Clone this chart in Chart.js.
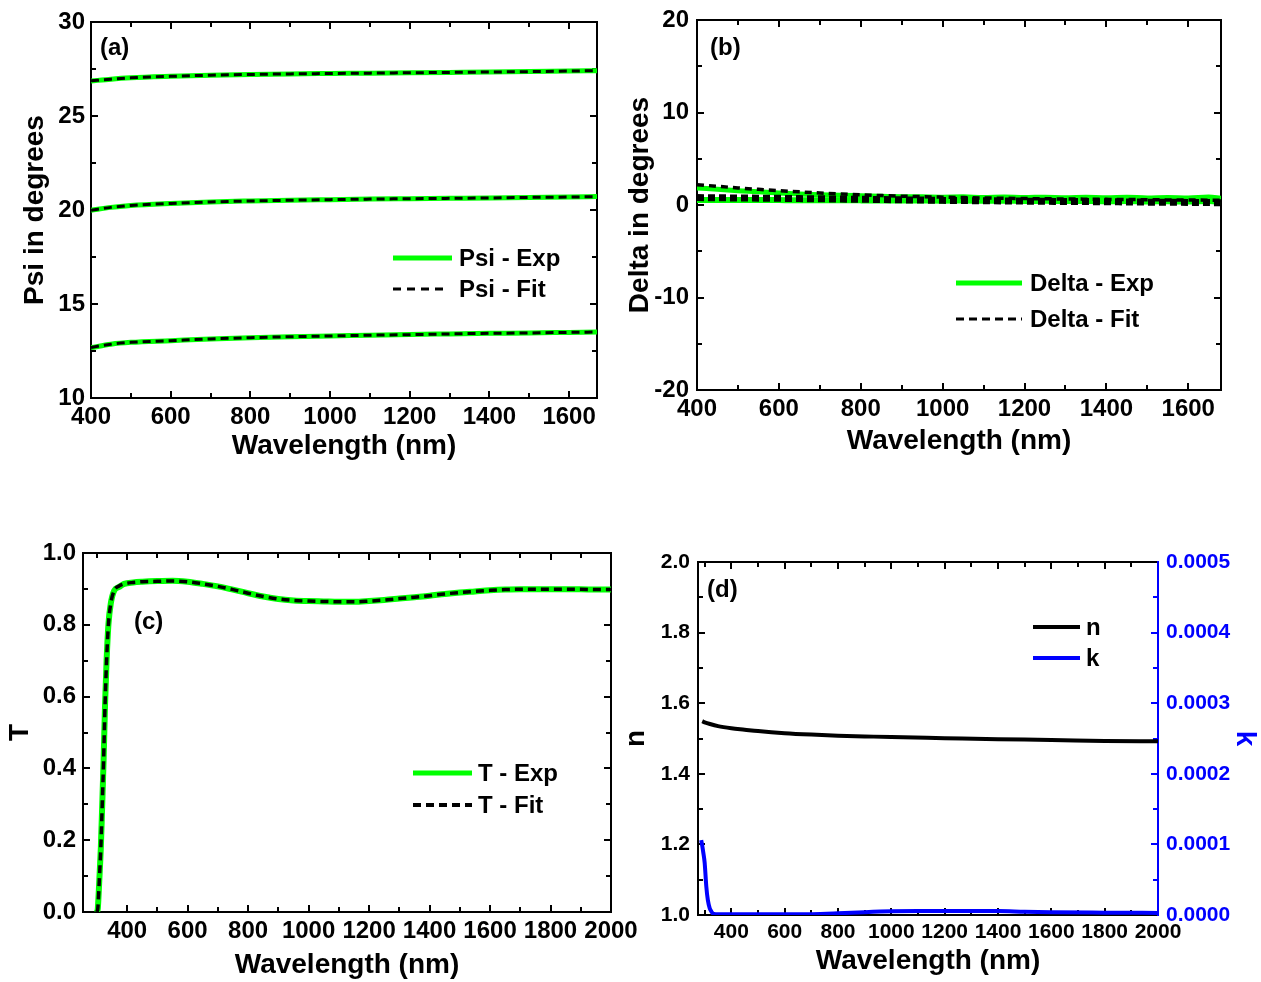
<!DOCTYPE html>
<html><head><meta charset="utf-8">
<script src="https://cdn.jsdelivr.net/npm/chart.js@4.4.1/dist/chart.umd.min.js"></script>
<style>
html,body{margin:0;padding:0;background:#fff;width:1261px;height:982px;overflow:hidden}
canvas{position:absolute}
</style></head><body>
<canvas id="ca" width="620" height="470" style="left:0;top:0;width:620px;height:470px"></canvas>
<canvas id="cb" width="641" height="470" style="left:620px;top:0;width:641px;height:470px"></canvas>
<canvas id="cc" width="650" height="452" style="left:0;top:530px;width:650px;height:452px"></canvas>
<canvas id="cd" width="641" height="452" style="left:620px;top:530px;width:641px;height:452px"></canvas>
<script>
const FONT = '"Liberation Sans", Arial, Helvetica, sans-serif';
const GREEN = 'rgb(0,255,0)';
const BLUE = 'rgb(0,0,255)';
const BLACK = '#000';

// ---------- (a) Psi ----------
const psiWl      = [400, 450, 500, 600, 700, 800, 900, 1000, 1100, 1200, 1300, 1400, 1500, 1600, 1670];
const psiExpTop  = [26.86, 26.96, 27.03, 27.11, 27.17, 27.21, 27.24, 27.26, 27.28, 27.30, 27.32, 27.34, 27.37, 27.39, 27.41];
const psiFitTop  = [26.87, 26.96, 27.03, 27.11, 27.17, 27.21, 27.24, 27.26, 27.28, 27.30, 27.32, 27.34, 27.36, 27.39, 27.41];
const psiExpMid  = [19.98, 20.14, 20.24, 20.35, 20.43, 20.48, 20.52, 20.55, 20.58, 20.60, 20.62, 20.64, 20.67, 20.69, 20.72];
const psiFitMid  = [19.99, 20.14, 20.24, 20.35, 20.43, 20.48, 20.52, 20.55, 20.58, 20.60, 20.62, 20.64, 20.67, 20.69, 20.71];
const psiExpLow  = [12.68, 12.86, 12.96, 13.05, 13.14, 13.21, 13.26, 13.30, 13.34, 13.38, 13.41, 13.44, 13.46, 13.49, 13.51];
const psiFitLow  = [12.69, 12.86, 12.96, 13.05, 13.14, 13.21, 13.26, 13.30, 13.34, 13.37, 13.41, 13.44, 13.46, 13.49, 13.51];
const psiXTicks  = [400, 600, 800, 1000, 1200, 1400, 1600];
const psiYTicks  = [10, 15, 20, 25, 30];

// ---------- (b) Delta ----------
const deltaWl   = [400, 450, 500, 550, 600, 650, 700, 750, 800, 850, 900, 950, 1000, 1050, 1100, 1150, 1200, 1250, 1300, 1350, 1400, 1450, 1500, 1550, 1600, 1650, 1680];
const deltaExp1 = [1.85, 1.7, 1.55, 1.42, 1.3, 1.2, 1.12, 1.05, 1.0, 0.95, 0.9, 0.88, 0.85, 0.88, 0.82, 0.86, 0.8, 0.85, 0.79, 0.84, 0.78, 0.83, 0.77, 0.82, 0.76, 0.86, 0.74];
const deltaExp2 = [0.55, 0.55, 0.54, 0.54, 0.53, 0.52, 0.52, 0.51, 0.5, 0.5, 0.49, 0.48, 0.47, 0.49, 0.45, 0.47, 0.43, 0.46, 0.42, 0.44, 0.4, 0.43, 0.39, 0.41, 0.37, 0.42, 0.36];
const deltaFit1 = [2.2, 2.02, 1.85, 1.69, 1.55, 1.42, 1.3, 1.19, 1.1, 1.02, 0.95, 0.9, 0.85, 0.8, 0.76, 0.73, 0.7, 0.67, 0.65, 0.63, 0.61, 0.59, 0.57, 0.55, 0.54, 0.52, 0.51];
const deltaFit2 = [0.8, 0.78, 0.76, 0.74, 0.72, 0.69, 0.67, 0.64, 0.62, 0.59, 0.56, 0.53, 0.5, 0.48, 0.46, 0.44, 0.42, 0.4, 0.38, 0.37, 0.35, 0.33, 0.31, 0.3, 0.28, 0.26, 0.25];
const deltaXTicks = [400, 600, 800, 1000, 1200, 1400, 1600];
const deltaYTicks = [-20, -10, 0, 10, 20];

// ---------- (c) T ----------
const tWl  = [300, 303, 308, 313, 318, 322, 327, 332, 338, 346, 357, 373, 390, 420, 450, 500, 550, 600, 650, 700, 750, 800, 850, 900, 950, 1000, 1050, 1100, 1150, 1200, 1250, 1300, 1350, 1400, 1450, 1500, 1550, 1600, 1650, 1700, 1750, 1800, 1850, 1900, 1950, 2000];
const tExp = [0.0, 0.01, 0.09, 0.18, 0.31, 0.42, 0.58, 0.70, 0.80, 0.86, 0.895, 0.905, 0.914, 0.918, 0.920, 0.922, 0.923, 0.920, 0.914, 0.907, 0.898, 0.888, 0.879, 0.872, 0.868, 0.866, 0.865, 0.864, 0.864, 0.866, 0.869, 0.873, 0.877, 0.881, 0.886, 0.890, 0.893, 0.896, 0.898, 0.899, 0.899, 0.899, 0.899, 0.899, 0.898, 0.898];
const tFit = [0.0, 0.01, 0.09, 0.18, 0.31, 0.42, 0.58, 0.70, 0.80, 0.86, 0.895, 0.908, 0.914, 0.918, 0.920, 0.921, 0.922, 0.920, 0.914, 0.907, 0.898, 0.888, 0.879, 0.872, 0.868, 0.866, 0.865, 0.864, 0.864, 0.866, 0.869, 0.873, 0.877, 0.881, 0.886, 0.890, 0.893, 0.896, 0.898, 0.899, 0.899, 0.899, 0.899, 0.899, 0.898, 0.898];
const tXTicks = [400, 600, 800, 1000, 1200, 1400, 1600, 1800, 2000];
const tYTicks = [0.0, 0.2, 0.4, 0.6, 0.8, 1.0];
const tYLabels = ['0.0', '0.2', '0.4', '0.6', '0.8', '1.0'];

// ---------- (d) n, k ----------
const nWl = [291, 300, 320, 350, 400, 450, 500, 600, 700, 800, 900, 1000, 1200, 1400, 1600, 1800, 2000];
const nVal = [1.549, 1.546, 1.541, 1.535, 1.529, 1.525, 1.521, 1.515, 1.511, 1.508, 1.506, 1.504, 1.501, 1.498, 1.496, 1.493, 1.492];
const kWl = [287, 291, 295, 300, 306, 312, 319, 325, 331, 340, 350, 400, 500, 600, 700, 800, 900, 1000, 1100, 1200, 1300, 1400, 1500, 1600, 1800, 2000];
const kVal = [0.000106, 0.000098, 0.000088, 0.000074, 0.000041, 0.000021, 0.0000095, 0.000005, 0.000002, 0.0000012, 0.000001, 0.000001, 0.000001, 0.000001, 0.0000012, 0.0000024, 0.000004, 0.0000052, 0.0000056, 0.0000056, 0.0000056, 0.0000055, 0.0000045, 0.0000038, 0.0000033, 0.000003];
const ndXTicks = [400, 600, 800, 1000, 1200, 1400, 1600, 1800, 2000];
const nYTicks = [1.0, 1.2, 1.4, 1.6, 1.8, 2.0];
const nYLabels = ['1.0', '1.2', '1.4', '1.6', '1.8', '2.0'];
const kYTicks = [0, 0.0001, 0.0002, 0.0003, 0.0004, 0.0005];
const kYLabels = ['0.0000', '0.0001', '0.0002', '0.0003', '0.0004', '0.0005'];

// ---------- helpers ----------
function pts(xs, ys) { return xs.map((x, i) => ({ x: x, y: ys[i] })); }
function ds(label, xs, ys, color, width, dash, axisId, order) {
  return { label: label, data: pts(xs, ys), borderColor: color, backgroundColor: color, borderWidth: width,
    borderDash: dash || [], pointRadius: 0, fill: false, cubicInterpolationMode: 'monotone',
    yAxisID: axisId || 'y', borderCapStyle: 'butt', borderJoinStyle: 'round',
    order: order === undefined ? ((dash && dash.length) ? 0 : 1) : order };
}
function f(size) { return { family: FONT, size: size, weight: 'bold', lineHeight: 1 }; }

function xAxis(o) {
  return {
    type: 'linear', position: 'bottom', min: o.min, max: o.max,
    afterBuildTicks: s => { s.ticks = o.ticks.map(v => ({ value: v })); },
    afterFit: s => { s.height = o.h; },
    grid: { display: false, drawTicks: false }, border: { display: false },
    ticks: { font: f(o.fs), color: BLACK, padding: o.pad, autoSkip: false, maxRotation: 0, minRotation: 0,
      callback: (v, i) => o.labels ? o.labels[i] : String(v) },
    title: { display: true, text: 'Wavelength (nm)', font: f(28), color: BLACK, padding: { top: 0, bottom: o.tpad } }
  };
}
function yAxis(o) {
  return {
    type: 'linear', position: o.pos || 'left', min: o.min, max: o.max,
    afterBuildTicks: s => { s.ticks = o.ticks.map(v => ({ value: v })); },
    afterFit: s => { s.width = o.w; },
    grid: { display: false, drawTicks: false }, border: { display: false },
    ticks: { font: f(o.fs), color: o.color || BLACK, padding: o.pad, autoSkip: false,
      callback: (v, i) => o.labels ? o.labels[i] : String(v) },
    title: { display: true, text: o.title, font: f(28), color: o.color || BLACK, padding: { top: o.tpad, bottom: 0 } }
  };
}

const framePlugin = {
  id: 'frame',
  beforeDatasetsDraw(chart, args, opts) {
    const ctx = chart.ctx, a = chart.chartArea;
    ctx.save();
    ctx.setLineDash([]);
    (opts.tickSpec || []).forEach(t => {
      const sc = chart.scales[t.id];
      ctx.strokeStyle = t.color || BLACK;
      ctx.lineWidth = 2;
      const drawAt = (v, len) => {
        const p = Math.round(sc.getPixelForValue(v));
        t.sides.forEach(side => {
          ctx.beginPath();
          if (side === 'bottom') { ctx.moveTo(p, a.bottom); ctx.lineTo(p, a.bottom - len); }
          if (side === 'top') { ctx.moveTo(p, a.top); ctx.lineTo(p, a.top + len); }
          if (side === 'left') { ctx.moveTo(a.left, p); ctx.lineTo(a.left + len, p); }
          if (side === 'right') { ctx.moveTo(a.right, p); ctx.lineTo(a.right - len, p); }
          ctx.stroke();
        });
      };
      t.major.forEach(v => drawAt(v, 7));
      const step = t.minor;
      let start = t.major[0];
      while (start - step >= sc.min - 1e-12) start -= step;
      for (let i = 0; ; i++) {
        const v = start + i * step;
        if (v > sc.max + step * 1e-6) break;
        if (t.major.some(m => Math.abs(m - v) < step * 1e-3)) continue;
        drawAt(v, 5);
      }
    });
    ctx.lineWidth = 2;
    const sideColor = opts.sideColor || {};
    const seg = (x1, y1, x2, y2, c) => { ctx.strokeStyle = c || BLACK; ctx.beginPath(); ctx.moveTo(x1, y1); ctx.lineTo(x2, y2); ctx.stroke(); };
    seg(a.left, a.top, a.right, a.top, sideColor.top);
    seg(a.left, a.bottom, a.right, a.bottom, sideColor.bottom);
    seg(a.left, a.top - 1, a.left, a.bottom + 1, sideColor.left);
    seg(a.right, a.top - 1, a.right, a.bottom + 1, sideColor.right);
    ctx.restore();
  },
  afterDatasetsDraw(chart, args, opts) {
    const ctx = chart.ctx;
    ctx.save();
    (opts.legend || []).forEach(l => {
      ctx.strokeStyle = l.color; ctx.lineWidth = l.width; ctx.setLineDash(l.dash || []);
      ctx.lineCap = 'butt';
      ctx.beginPath(); ctx.moveTo(l.x1, l.y); ctx.lineTo(l.x2, l.y); ctx.stroke();
      ctx.setLineDash([]);
      ctx.fillStyle = BLACK; ctx.font = 'bold ' + (l.fs || 24) + 'px ' + FONT;
      ctx.textAlign = 'left'; ctx.textBaseline = 'middle';
      ctx.fillText(l.text, l.tx, l.y + 1);
    });
    if (opts.panel) {
      ctx.fillStyle = BLACK; ctx.font = 'bold ' + (opts.panel.fs || 24) + 'px ' + FONT;
      ctx.textAlign = 'left'; ctx.textBaseline = 'middle';
      ctx.fillText(opts.panel.text, opts.panel.x, opts.panel.y);
    }
    ctx.restore();
  }
};

const common = { responsive: false, animation: false, devicePixelRatio: 1, events: [] };
function make(id, datasets, scales, padding, frame) {
  return new Chart(document.getElementById(id), {
    type: 'line',
    data: { datasets: datasets },
    options: Object.assign({}, common, {
      layout: { padding: padding },
      scales: scales,
      plugins: { legend: { display: false }, tooltip: { enabled: false }, frame: frame }
    }),
    plugins: [framePlugin]
  });
}

// (a)
make('ca', [
  ds('Psi - Exp', psiWl, psiExpTop, GREEN, 5),
  ds('Psi - Exp', psiWl, psiExpMid, GREEN, 5),
  ds('Psi - Exp', psiWl, psiExpLow, GREEN, 5),
  ds('Psi - Fit', psiWl, psiFitTop, BLACK, 3, [8, 5]),
  ds('Psi - Fit', psiWl, psiFitMid, BLACK, 3, [8, 5]),
  ds('Psi - Fit', psiWl, psiFitLow, BLACK, 3, [8, 5])
], {
  x: xAxis({ min: 400, max: 1670, ticks: psiXTicks, h: 72, fs: 24, pad: 7, tpad: 10 }),
  y: yAxis({ min: 10, max: 30, ticks: psiYTicks, w: 91, fs: 24, pad: 6, tpad: 21, title: 'Psi in degrees' })
}, { top: 22, right: 23, bottom: 0, left: 0 }, {
  tickSpec: [
    { id: 'x', major: psiXTicks, minor: 100, sides: ['bottom', 'top'] },
    { id: 'y', major: psiYTicks, minor: 2.5, sides: ['left', 'right'] }
  ],
  legend: [
    { x1: 393, x2: 452, y: 258, color: GREEN, width: 5, text: 'Psi - Exp', tx: 459 },
    { x1: 393, x2: 445, y: 289, color: BLACK, width: 3, dash: [8, 6], text: 'Psi - Fit', tx: 459 }
  ],
  panel: { text: '(a)', x: 100, y: 48 }
});

// (b)
make('cb', [
  ds('Delta - Exp', deltaWl, deltaExp1, GREEN, 5),
  ds('Delta - Exp', deltaWl, deltaExp2, GREEN, 6),
  ds('Delta - Fit', deltaWl, deltaFit1, BLACK, 3.5, [7, 5]),
  ds('Delta - Fit', deltaWl, deltaFit2, BLACK, 7, [7, 4])
], {
  x: xAxis({ min: 400, max: 1680, ticks: deltaXTicks, h: 80, fs: 24, pad: 7, tpad: 15 }),
  y: yAxis({ min: -20, max: 20, ticks: deltaYTicks, w: 77, fs: 24, pad: 8, tpad: 6, title: 'Delta in degrees' })
}, { top: 18, right: 40, bottom: 0, left: 0 }, {
  tickSpec: [
    { id: 'x', major: deltaXTicks, minor: 100, sides: ['bottom', 'top'] },
    { id: 'y', major: deltaYTicks, minor: 5, sides: ['left', 'right'] }
  ],
  legend: [
    { x1: 336, x2: 402, y: 283, color: GREEN, width: 5, text: 'Delta - Exp', tx: 410 },
    { x1: 336, x2: 402, y: 319, color: BLACK, width: 3, dash: [8, 5], text: 'Delta - Fit', tx: 410 }
  ],
  panel: { text: '(b)', x: 90, y: 48 }
});

// (c)
make('cc', [
  ds('T - Exp', tWl, tExp, GREEN, 6),
  ds('T - Fit', tWl, tFit, BLACK, 3.5, [8, 5])
], {
  x: xAxis({ min: 254, max: 2000, ticks: tXTicks, h: 70, fs: 24, pad: 7, tpad: 3 }),
  y: yAxis({ min: 0, max: 1, ticks: tYTicks, labels: tYLabels, w: 83, fs: 24, pad: 7, tpad: 6, title: 'T' })
}, { top: 23, right: 39, bottom: 0, left: 0 }, {
  tickSpec: [
    { id: 'x', major: tXTicks, minor: 100, sides: ['bottom', 'top'] },
    { id: 'y', major: tYTicks, minor: 0.1, sides: ['left', 'right'] }
  ],
  legend: [
    { x1: 413, x2: 472, y: 243, color: GREEN, width: 5, text: 'T - Exp', tx: 478 },
    { x1: 413, x2: 472, y: 275, color: BLACK, width: 4, dash: [8, 5], text: 'T - Fit', tx: 478 }
  ],
  panel: { text: '(c)', x: 134, y: 92 }
});

// (d)
make('cd', [
  ds('n', nWl, nVal, BLACK, 4, [], 'y', 0),
  ds('k', kWl, kVal, BLUE, 4, [], 'y2', 1)
], {
  x: xAxis({ min: 275, max: 2000, ticks: ndXTicks, h: 67, fs: 21, pad: 7, tpad: 7 }),
  y: yAxis({ min: 1, max: 2, ticks: nYTicks, labels: nYLabels, w: 78, fs: 21, pad: 8, tpad: 2, title: 'n' }),
  y2: yAxis({ pos: 'right', min: 0, max: 0.0005, ticks: kYTicks, labels: kYLabels, w: 103, fs: 21, pad: 8, tpad: 2, title: 'k', color: BLUE })
}, { top: 32, right: 0, bottom: 0, left: 0 }, {
  tickSpec: [
    { id: 'x', major: ndXTicks, minor: 100, sides: ['bottom', 'top'] },
    { id: 'y', major: nYTicks, minor: 0.1, sides: ['left'] },
    { id: 'y2', major: kYTicks, minor: 0.00005, sides: ['right'], color: BLUE }
  ],
  sideColor: { right: BLUE },
  legend: [
    { x1: 413, x2: 460, y: 97, color: BLACK, width: 4, text: 'n', tx: 466 },
    { x1: 413, x2: 460, y: 128, color: BLUE, width: 4, text: 'k', tx: 466 }
  ],
  panel: { text: '(d)', x: 87, y: 60 }
});
</script>
</body></html>
